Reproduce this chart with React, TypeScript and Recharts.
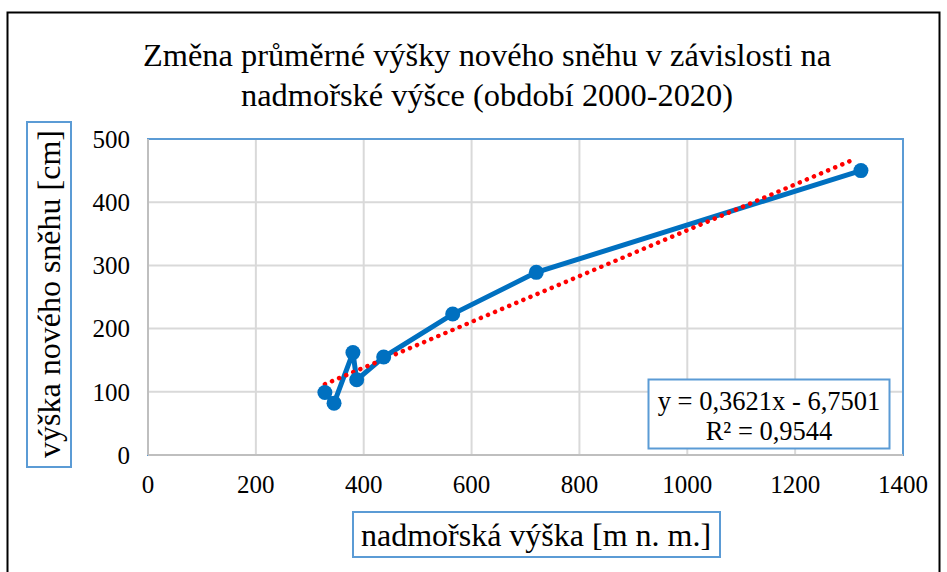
import React from "react";
import {
  LineChart,
  Line,
  XAxis,
  YAxis,
  CartesianGrid,
  ReferenceArea,
} from "recharts";

const altitudes = [328, 345, 380, 387, 437, 565, 720, 1322];
const snowDepths = [99, 82, 162, 119, 155, 223, 289, 450];
const trendX = [328, 1310];
const trendY = [112, 468];
const xTicks = [0, 200, 400, 600, 800, 1000, 1200, 1400];
const yTicks = [0, 100, 200, 300, 400, 500];

const titleLines = [
  "Změna průměrné výšky nového sněhu v závislosti na",
  "nadmořské výšce (období 2000-2020)",
];
const yTitle = "výška nového sněhu [cm]";
const xTitle = "nadmořská výška [m n. m.]";
const eqLine1 = "y = 0,3621x - 6,7501";
const eqLine2 = "R² = 0,9544";

const seriesData = altitudes.map((x, i) => ({ x, y: snowDepths[i] }));
const trendData = trendX.map((x, i) => ({ x, t: trendY[i] }));

const FONT = "'Liberation Serif', 'Times New Roman', serif";
const BLUE = "#0070C0";
const BOX = "#5B9BD5";

export default function App() {
  return (
    <div style={{ position: "absolute", left: 0, top: 0, width: 947, height: 572, background: "#fff", overflow: "hidden" }}>
      <LineChart
        width={947}
        height={572}
        margin={{ top: 139, right: 44, left: 88, bottom: 77 }}
      >
        <CartesianGrid stroke="#D9D9D9" strokeWidth={2} />
        <ReferenceArea x1={0} x2={1400} y1={0} y2={500} fill="none" stroke={BOX} strokeWidth={2} strokeOpacity={1} fillOpacity={0} ifOverflow="visible" />
        <XAxis
          type="number"
          dataKey="x"
          domain={[0, 1400]}
          ticks={xTicks}
          interval={0}
          allowDataOverflow
          height={40}
          axisLine={{ stroke: "#BFBFBF", strokeWidth: 2 }}
          tickLine={false}
          tick={{ fill: "#000", fontSize: 25, fontFamily: FONT }}
          tickMargin={14}
        />
        <YAxis
          type="number"
          domain={[0, 500]}
          ticks={yTicks}
          interval={0}
          width={60}
          axisLine={{ stroke: "#BFBFBF", strokeWidth: 2 }}
          tickLine={false}
          tick={{ fill: "#000", fontSize: 25, fontFamily: FONT }}
          tickMargin={12}
        />
        <Line
          data={seriesData}
          dataKey="y"
          type="linear"
          stroke={BLUE}
          strokeWidth={5}
          dot={{ r: 7.5, fill: BLUE, stroke: BLUE, strokeWidth: 0 }}
          activeDot={false}
          isAnimationActive={false}
        />
        <Line
          data={trendData}
          dataKey="t"
          type="linear"
          stroke="#FF0000"
          strokeWidth={4.5}
          strokeDasharray="0.1 7.6"
          strokeLinecap="round"
          dot={false}
          activeDot={false}
          isAnimationActive={false}
        />
      </LineChart>
      <svg
        width={947}
        height={572}
        style={{ position: "absolute", left: 0, top: 0, pointerEvents: "none" }}
      >
        <rect x={7.5} y={12.5} width={932} height={600} fill="none" stroke="#000" strokeWidth={2} />
        <text x={487} y={66} textAnchor="middle" fontFamily={FONT} fontSize={32.4} fill="#000">
          {titleLines[0]}
        </text>
        <text x={487} y={106} textAnchor="middle" fontFamily={FONT} fontSize={32.4} fill="#000">
          {titleLines[1]}
        </text>
        <rect x={27} y={122} width={44} height={345} fill="#fff" stroke={BOX} strokeWidth={2} />
        <text
          x={0}
          y={0}
          transform="translate(60,294) rotate(-90)"
          textAnchor="middle"
          fontFamily={FONT}
          fontSize={32}
          fill="#000"
        >
          {yTitle}
        </text>
        <rect x={353} y={512} width={367} height={45} fill="#fff" stroke={BOX} strokeWidth={2} />
        <text x={536} y={546} textAnchor="middle" fontFamily={FONT} fontSize={32} fill="#000">
          {xTitle}
        </text>
        <rect x={648.5} y={379.5} width={241} height={69} fill="#fff" stroke={BOX} strokeWidth={2} />
        <text x={769} y={410} textAnchor="middle" fontFamily={FONT} fontSize={26.5} fill="#000">
          {eqLine1}
        </text>
        <text x={769} y={440} textAnchor="middle" fontFamily={FONT} fontSize={26.5} fill="#000">
          {eqLine2}
        </text>
      </svg>
    </div>
  );
}
